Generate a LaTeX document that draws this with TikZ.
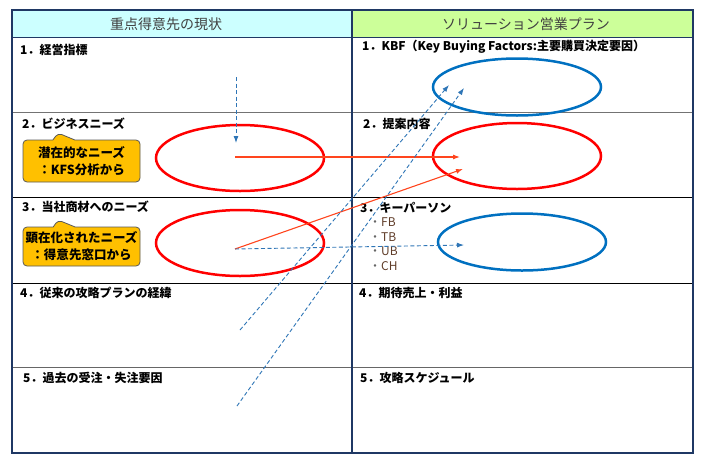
\documentclass[tikz,border=0pt]{standalone}
\usepackage{fontspec}
\setmainfont{Noto Sans CJK JP}
\usetikzlibrary{arrows, arrows.meta, calc, positioning, shapes.geometric, shapes.callouts}

\definecolor{hdrL}{RGB}{204,255,255}
\definecolor{hdrR}{RGB}{204,255,153}
\definecolor{frame}{RGB}{31,56,100}
\definecolor{need}{RGB}{255,192,0}
\definecolor{kbfblue}{RGB}{0,112,192}
\definecolor{linkblue}{RGB}{46,117,182}
\definecolor{linkred}{RGB}{255,69,30}
\definecolor{itembrown}{RGB}{95,60,40}

\tikzset{
  hdr/.style={inner sep=0pt, text=black!75, font=\fontsize{14}{16}\selectfont},
  rowlabel/.style={anchor=west, inner sep=0pt, font=\fontsize{12}{14}\selectfont\bfseries},
  itemlabel/.style={anchor=west, inner sep=0pt, font=\fontsize{12}{14}\selectfont},
  redoval/.style={ellipse, draw=red, line width=2.5pt, minimum width=168pt, minimum height=66pt, inner sep=0pt},
  blueoval/.style={ellipse, draw=kbfblue, line width=2.5pt, minimum width=168pt, minimum height=57pt, inner sep=0pt},
  needbox/.style={rectangle callout, rounded corners=4pt, fill=need, draw=black!65, line width=0.8pt,
    callout pointer width=22pt, minimum width=117pt, inner sep=2pt, align=center,
    font=\fontsize{12.5}{17}\selectfont\bfseries},
  redlink/.style={draw=linkred, line width=1.1pt, -{Latex[length=7pt,width=5pt]}},
  bluelink/.style={draw=linkblue, line width=0.9pt, dash pattern=on 4pt off 2.5pt, -{Latex[length=7pt,width=5pt]}}
}

\begin{document}
\begin{tikzpicture}[x=1pt, y=-1pt]
  \useasboundingbox (0,0) rectangle (703,461);

  \fill[hdrL] (12,10) rectangle (352,37);
  \fill[hdrR] (352,10) rectangle (693,37);
  \node [hdr] (Hl) at (166,24) {重点得意先の現状};
  \node [hdr] (Hr) at (526,24) {ソリューション営業プラン};

  \draw[black!55, line width=0.8pt] (12,112) -- (693,112);
  \draw[black, line width=0.8pt] (12,197) -- (693,197);
  \draw[black, line width=0.8pt] (12,283) -- (693,283);
  \draw[black!60, line width=0.8pt] (12,367) -- (693,367);
  \draw[frame, line width=1pt] (12,37) -- (693,37);
  \draw[frame, line width=1.2pt] (352,10) -- (352,453);
  \draw[frame, line width=1.2pt] (12,10) rectangle (693,453);

  \node [rowlabel] (L1) at (20,50) {1．経営指標};
  \node [rowlabel] (L2) at (22,124) {2．ビジネスニーズ};
  \node [rowlabel] (L3) at (22,207) {3．当社商材へのニーズ};
  \node [rowlabel] (L4) at (20,293) {4．従来の攻略プランの経緯};
  \node [rowlabel] (L5) at (23,378) {5．過去の受注・失注要因};

  \node [rowlabel] (R1) at (362,47) {1．KBF（Key Buying Factors:主要購買決定要因）};
  \node [rowlabel] (R2) at (363,124) {2．提案内容};
  \node [rowlabel] (R3) at (360,208) {3．キーパーソン};
  \node [rowlabel] (R4) at (359,293) {4．期待売上・利益};
  \node [rowlabel] (R5) at (360,378) {5．攻略スケジュール};

  \node [itemlabel] (Kfb) at (369,222) {\textcolor{black!60}{・}\textcolor{itembrown}{FB}};
  \node [itemlabel] (Ktb) at (369,237) {\textcolor{black!60}{・}\textcolor{itembrown}{TB}};
  \node [itemlabel] (Kub) at (369,251) {\textcolor{black!60}{・}\textcolor{itembrown}{UB}};
  \node [itemlabel] (Kch) at (369,266) {\textcolor{black!60}{・}\textcolor{itembrown}{CH}};

  \node [needbox, minimum height=42pt, callout absolute pointer={(58,133)}] (C2) at (81.5,161) {潜在的なニーズ\\：KFS分析から};
  \node [needbox, minimum height=39pt, callout absolute pointer={(58,220)}] (C3) at (81.5,246.5) {顕在化されたニーズ\\：得意先窓口から};

  \node [redoval] (E2) at (240,158) {};
  \node [redoval] (E3) at (240,243) {};
  \node [blueoval] (P1) at (517,87) {};
  \node [redoval] (P2) at (517,156) {};
  \node [blueoval] (P3) at (522,242) {};

  \coordinate (a1s) at (236,77);
  \coordinate (a1e) at (236,143);
  \coordinate (r2s) at (235,157);
  \coordinate (r2e) at (460,157);
  \coordinate (r3s) at (235,249);
  \coordinate (r3e) at (463,169);
  \coordinate (b3e) at (464,245);
  \coordinate (b4s) at (240,330);
  \coordinate (b4e) at (449,85);
  \coordinate (b5s) at (237,406);
  \coordinate (b5e) at (464,88);

  \draw[bluelink] (a1s) -- (a1e);
  \draw[redlink] (r2s) -- (r2e);
  \draw[redlink] (r3s) -- (r3e);
  \draw[bluelink] (r3s) -- (b3e);
  \draw[bluelink] (b4s) -- (b4e);
  \draw[bluelink] (b5s) -- (b5e);
\end{tikzpicture}
\end{document}
